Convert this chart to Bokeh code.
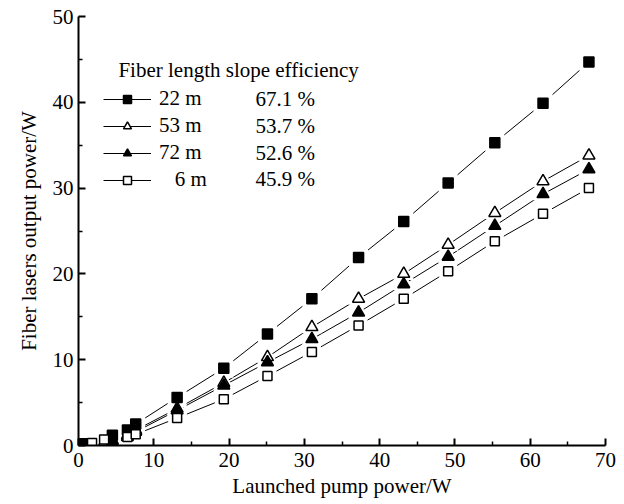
from bokeh.plotting import figure
from bokeh.models import Legend, LegendItem, Label, Range1d, FixedTicker
from bokeh.embed import file_html
from bokeh.resources import INLINE

FONT = "Liberation Serif"

# Launched pump power (W) and output power (W) for each fiber length
x_22 = [0.5, 4.5, 6.5, 7.6, 13.1, 19.3, 25.1, 31.0, 37.2, 43.2, 49.1, 55.3, 61.7, 67.8]
y_22 = [0.2, 1.2, 1.8, 2.5, 5.6, 9.0, 13.0, 17.1, 21.9, 26.1, 30.6, 35.3, 39.9, 44.7]

x_53 = [3.4, 4.5, 6.5, 7.6, 13.1, 19.3, 25.1, 31.0, 37.2, 43.2, 49.1, 55.3, 61.7, 67.8]
y_53 = [0.3, 0.6, 1.2, 1.8, 4.3, 7.3, 10.3, 13.8, 17.1, 20.0, 23.4, 27.1, 30.8, 33.8]

x_72 = [4.5, 6.5, 7.6, 13.1, 19.3, 25.1, 31.0, 37.2, 43.2, 49.1, 55.3, 61.7, 67.8]
y_72 = [0.4, 1.0, 1.6, 4.1, 7.0, 9.7, 12.4, 15.5, 18.8, 22.0, 25.6, 29.3, 32.2]

x_6 = [1.8, 3.4, 6.5, 7.6, 13.1, 19.3, 25.1, 31.0, 37.2, 43.2, 49.1, 55.3, 61.7, 67.8]
y_6 = [0.3, 0.7, 1.0, 1.3, 3.2, 5.4, 8.1, 10.9, 14.0, 17.1, 20.3, 23.8, 27.0, 30.0]

lengths = ["22 m", "53 m", "72 m", "\u00a0\u00a0 6 m"]
efficiencies = ["67.1 %", "53.7 %", "52.6 %", "45.9 %"]
legend_title = "Fiber length slope efficiency"

x_ticks = [0, 10, 20, 30, 40, 50, 60, 70]
x_minor = [5, 15, 25, 35, 45, 55, 65]
y_ticks = [0, 10, 20, 30, 40, 50]
y_minor = [5, 15, 25, 35, 45]

p = figure(width=620, height=500, output_backend="svg", toolbar_location=None,
           x_range=Range1d(0, 70), y_range=Range1d(0, 50),
           min_border_left=78, min_border_right=15, min_border_top=16, min_border_bottom=53)
p.outline_line_color = None
p.grid.visible = False
p.background_fill_color = "white"

for ax in (p.xaxis[0], p.yaxis[0]):
    ax.axis_line_width = 2
    ax.axis_line_color = "black"
    ax.major_tick_in = 7
    ax.major_tick_out = 0
    ax.minor_tick_in = 4
    ax.minor_tick_out = 0
    ax.major_tick_line_width = 2
    ax.minor_tick_line_width = 1.5
    ax.major_label_text_font = FONT
    ax.major_label_text_font_size = "21px"
    ax.major_label_text_color = "black"
    ax.axis_label_text_font = FONT
    ax.axis_label_text_font_size = "21px"
    ax.axis_label_text_font_style = "normal"
    ax.axis_label_text_color = "black"

p.xaxis[0].ticker = FixedTicker(ticks=x_ticks, minor_ticks=x_minor)
p.yaxis[0].ticker = FixedTicker(ticks=y_ticks, minor_ticks=y_minor)
p.xaxis.axis_label = "Launched pump power/W"
p.yaxis.axis_label = "Fiber lasers output power/W"
p.xaxis.major_label_standoff = 7
p.yaxis.major_label_standoff = 5
p.xaxis.axis_label_standoff = 4
p.yaxis.axis_label_standoff = 9

series = [
    (x_22, y_22, "square", "black", 10),
    (x_53, y_53, "triangle", "white", 12),
    (x_72, y_72, "triangle", "black", 12),
    (x_6, y_6, "square", "white", 9),
]

lines = []
for xs, ys, m, fill, sz in series:
    lines.append(p.line(xs, ys, line_color="black", line_width=1))
halos = []
for xs, ys, m, fill, sz in series:
    halos.append(p.scatter(xs, ys, marker=m, size=sz + 9, fill_color="white", line_color=None))
marks = []
for xs, ys, m, fill, sz in series:
    marks.append(p.scatter(xs, ys, marker=m, size=sz, fill_color=fill,
                           line_color="black", line_width=1.5))

items = [LegendItem(label=lab, renderers=[ln, hl, mk])
         for lab, ln, hl, mk in zip(lengths, lines, halos, marks)]
legend = Legend(items=items, location=(25, 253),
                label_text_font=FONT, label_text_font_size="21px", label_text_color="black",
                glyph_width=48, glyph_height=20, label_height=20, spacing=2,
                label_standoff=8, padding=0, margin=0,
                background_fill_alpha=0, border_line_color=None)
p.add_layout(legend)

p.add_layout(Label(x=5.3, y=43.8, text=legend_title, text_font=FONT, text_font_size="21px",
                   text_baseline="middle", text_color="black"))

row_y = [40.35, 37.2, 34.1, 31.05]
for eff, ry in zip(efficiencies, row_y):
    p.add_layout(Label(x=23.5, y=ry, text=eff, text_font=FONT, text_font_size="21px",
                       text_baseline="middle", text_color="black"))

open("out.html", "w").write(file_html(p, INLINE))
